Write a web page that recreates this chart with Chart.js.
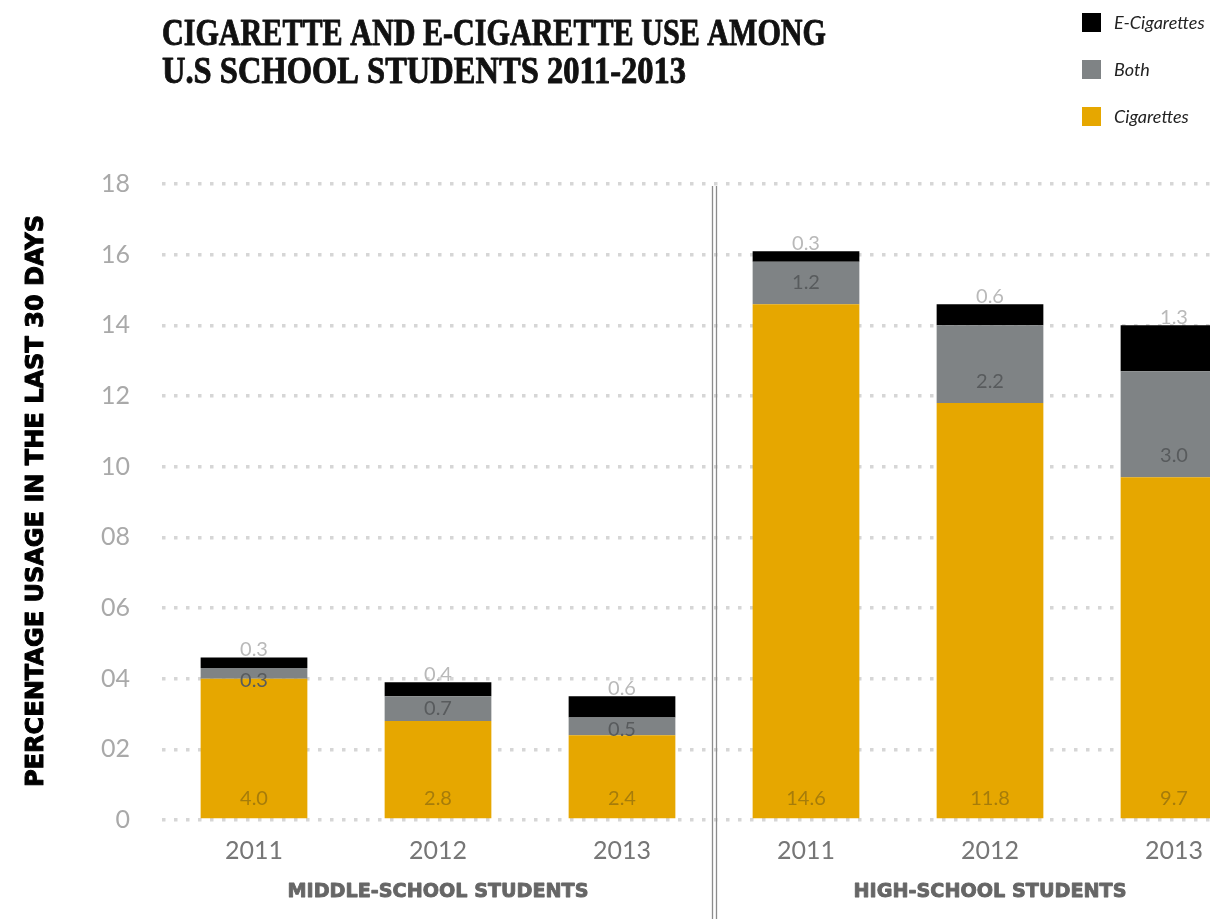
<!DOCTYPE html>
<html>
<head>
<meta charset="utf-8">
<script src="https://cdn.jsdelivr.net/npm/chart.js@4"></script>
<style>
    html, body { margin: 0; padding: 0; background: #fff; overflow: hidden; }
    #wrap { width: 1210px; height: 919px; overflow: hidden; position: relative; }
    canvas { display: block; }
</style>
</head>
<body>
<div id="wrap">
    <canvas id="chart" width="1270" height="919" style="width:1270px;height:919px"></canvas>
</div>
<script>
// Data
const years = ['2011', '2012', '2013', '2011', '2012', '2013'];
const groups = ['MIDDLE-SCHOOL STUDENTS', 'HIGH-SCHOOL STUDENTS'];
const cigarettes = [4.0, 2.8, 2.4, 14.6, 11.8, 9.7];
const both = [0.3, 0.7, 0.5, 1.2, 2.2, 3.0];
const eCigarettes = [0.3, 0.4, 0.6, 0.3, 0.6, 1.3];
const yTickLabels = ['0', '02', '04', '06', '08', '10', '12', '14', '16', '18'];
const titleLines = ['CIGARETTE AND E-CIGARETTE USE AMONG', 'U.S SCHOOL STUDENTS 2011-2013'];
const yTitle = 'PERCENTAGE USAGE IN THE LAST 30 DAYS';

const COLORS = {
    cig: '#e6a700',
    both: '#7f8385',
    ecig: '#000000'
};

const SANS = 'Lato, "Open Sans", sans-serif';
const HEAVY = '"DejaVu Sans", Inter, sans-serif';

// draw text stretched or squeezed horizontally to a given width,
// with an optional outline to thicken the strokes
function fitText(ctx, text, x, y, width, align, heavy) {
    const s = width / ctx.measureText(text).width;
    ctx.save();
    ctx.translate(x, y);
    ctx.scale(s, 1);
    ctx.textAlign = align || 'left';
    ctx.fillText(text, 0, 0);
    if (heavy) {
        ctx.strokeStyle = ctx.fillStyle;
        ctx.lineWidth = heavy;
        ctx.lineJoin = 'round';
        ctx.strokeText(text, 0, 0);
    }
    ctx.restore();
}

// Title, legend, axis title, group labels, divider
const decorations = {
    id: 'decorations',
    beforeDatasetsDraw(chart) {
        const ctx = chart.ctx;
        const xs = chart.scales.x;
        const area = chart.chartArea;
        const mid = (xs.getPixelForValue(2) + xs.getPixelForValue(3)) / 2;
        ctx.save();
        ctx.strokeStyle = '#8c8c8c';
        ctx.lineWidth = 1.3;
        [-1.6, 1.6].forEach(d => {
            ctx.beginPath();
            ctx.moveTo(Math.round(mid + d) + 0.5, area.top + 2);
            ctx.lineTo(Math.round(mid + d) + 0.5, chart.height);
            ctx.stroke();
        });
        ctx.restore();
    },
    afterDraw(chart) {
        const ctx = chart.ctx;
        const xs = chart.scales.x;
        ctx.save();

        // title
        ctx.fillStyle = '#111';
        ctx.textBaseline = 'alphabetic';
        ctx.font = 'bold 37px "Liberation Serif", serif';
        fitText(ctx, titleLines[0], 162, 45, 664, 'left', 0.9);
        fitText(ctx, titleLines[1], 162, 83, 524, 'left', 0.9);

        // legend
        const legend = [
            ['E-Cigarettes', COLORS.ecig],
            ['Both', COLORS.both],
            ['Cigarettes', COLORS.cig]
        ];
        ctx.font = 'italic 18px ' + SANS;
        ctx.textBaseline = 'middle';
        legend.forEach(([label, color], i) => {
            const cy = 22 + i * 47;
            ctx.fillStyle = color;
            ctx.fillRect(1082, cy - 9, 19, 19);
            ctx.fillStyle = '#222';
            ctx.textAlign = 'left';
            ctx.fillText(label, 1114, cy + 1);
        });

        // y axis title
        ctx.fillStyle = '#000';
        ctx.font = 'bold 24px ' + HEAVY;
        ctx.textBaseline = 'alphabetic';
        ctx.save();
        ctx.translate(43, 501);
        ctx.rotate(-Math.PI / 2);
        fitText(ctx, yTitle, 0, 0, 572, 'center', 1);
        ctx.restore();

        // group labels under the years
        ctx.fillStyle = '#666';
        ctx.font = 'bold 20px ' + HEAVY;
        ctx.textBaseline = 'middle';
        fitText(ctx, groups[0], xs.getPixelForValue(1), 892, 301, 'center', 0.9);
        fitText(ctx, groups[1], xs.getPixelForValue(4), 892, 273, 'center', 0.9);

        ctx.restore();
    }
};

// value labels inside and above the stacks
const valueLabels = {
    id: 'valueLabels',
    afterDatasetsDraw(chart) {
        const ctx = chart.ctx;
        const mCig = chart.getDatasetMeta(0).data;
        const mBoth = chart.getDatasetMeta(1).data;
        const mEcig = chart.getDatasetMeta(2).data;
        ctx.save();
        ctx.font = '20px ' + SANS;
        ctx.textAlign = 'center';
        ctx.textBaseline = 'middle';
        mCig.forEach((bar, i) => {
            ctx.fillStyle = '#a67c0a';
            ctx.fillText(cigarettes[i].toFixed(1), bar.x, bar.base - 20);

            const b = mBoth[i];
            ctx.fillStyle = '#585b5d';
            ctx.fillText(both[i].toFixed(1), b.x, Math.max(b.base - 22, b.y + 12));

            const e = mEcig[i];
            ctx.fillStyle = '#b9b9b9';
            ctx.fillText(eCigarettes[i].toFixed(1), e.x, e.y - 8);
        });
        ctx.restore();
    }
};

const ctx = document.getElementById('chart').getContext('2d');
new Chart(ctx, {
    type: 'bar',
    data: {
        labels: years,
        datasets: [
            { label: 'Cigarettes', data: cigarettes, backgroundColor: COLORS.cig },
            { label: 'Both', data: both, backgroundColor: COLORS.both },
            { label: 'E-Cigarettes', data: eCigarettes, backgroundColor: COLORS.ecig }
        ]
    },
    options: {
        responsive: false,
        devicePixelRatio: 1,
        animation: false,
        barPercentage: 0.58,
        categoryPercentage: 1,
        layout: { padding: { top: 184, right: 4, left: 0, bottom: 0 } },
        plugins: {
            legend: { display: false },
            tooltip: { enabled: false }
        },
        scales: {
            x: {
                stacked: true,
                grid: { display: false },
                border: { display: false },
                ticks: {
                    color: '#767676',
                    font: { family: SANS, size: 25 },
                    padding: 8
                },
                afterFit(scale) { scale.height = 99; }
            },
            y: {
                stacked: true,
                min: 0,
                max: 18,
                grid: {
                    color: '#d6d6d6',
                    lineWidth: 3.5,
                    drawTicks: false
                },
                border: { display: false, dash: [3.5, 8.5] },
                ticks: {
                    stepSize: 2,
                    color: '#a9a9a9',
                    font: { family: SANS, size: 25 },
                    padding: 32,
                    callback: (v, i) => yTickLabels[i]
                },
                afterFit(scale) { scale.width = 162; }
            }
        }
    },
    plugins: [decorations, valueLabels]
});
</script>
</body>
</html>
